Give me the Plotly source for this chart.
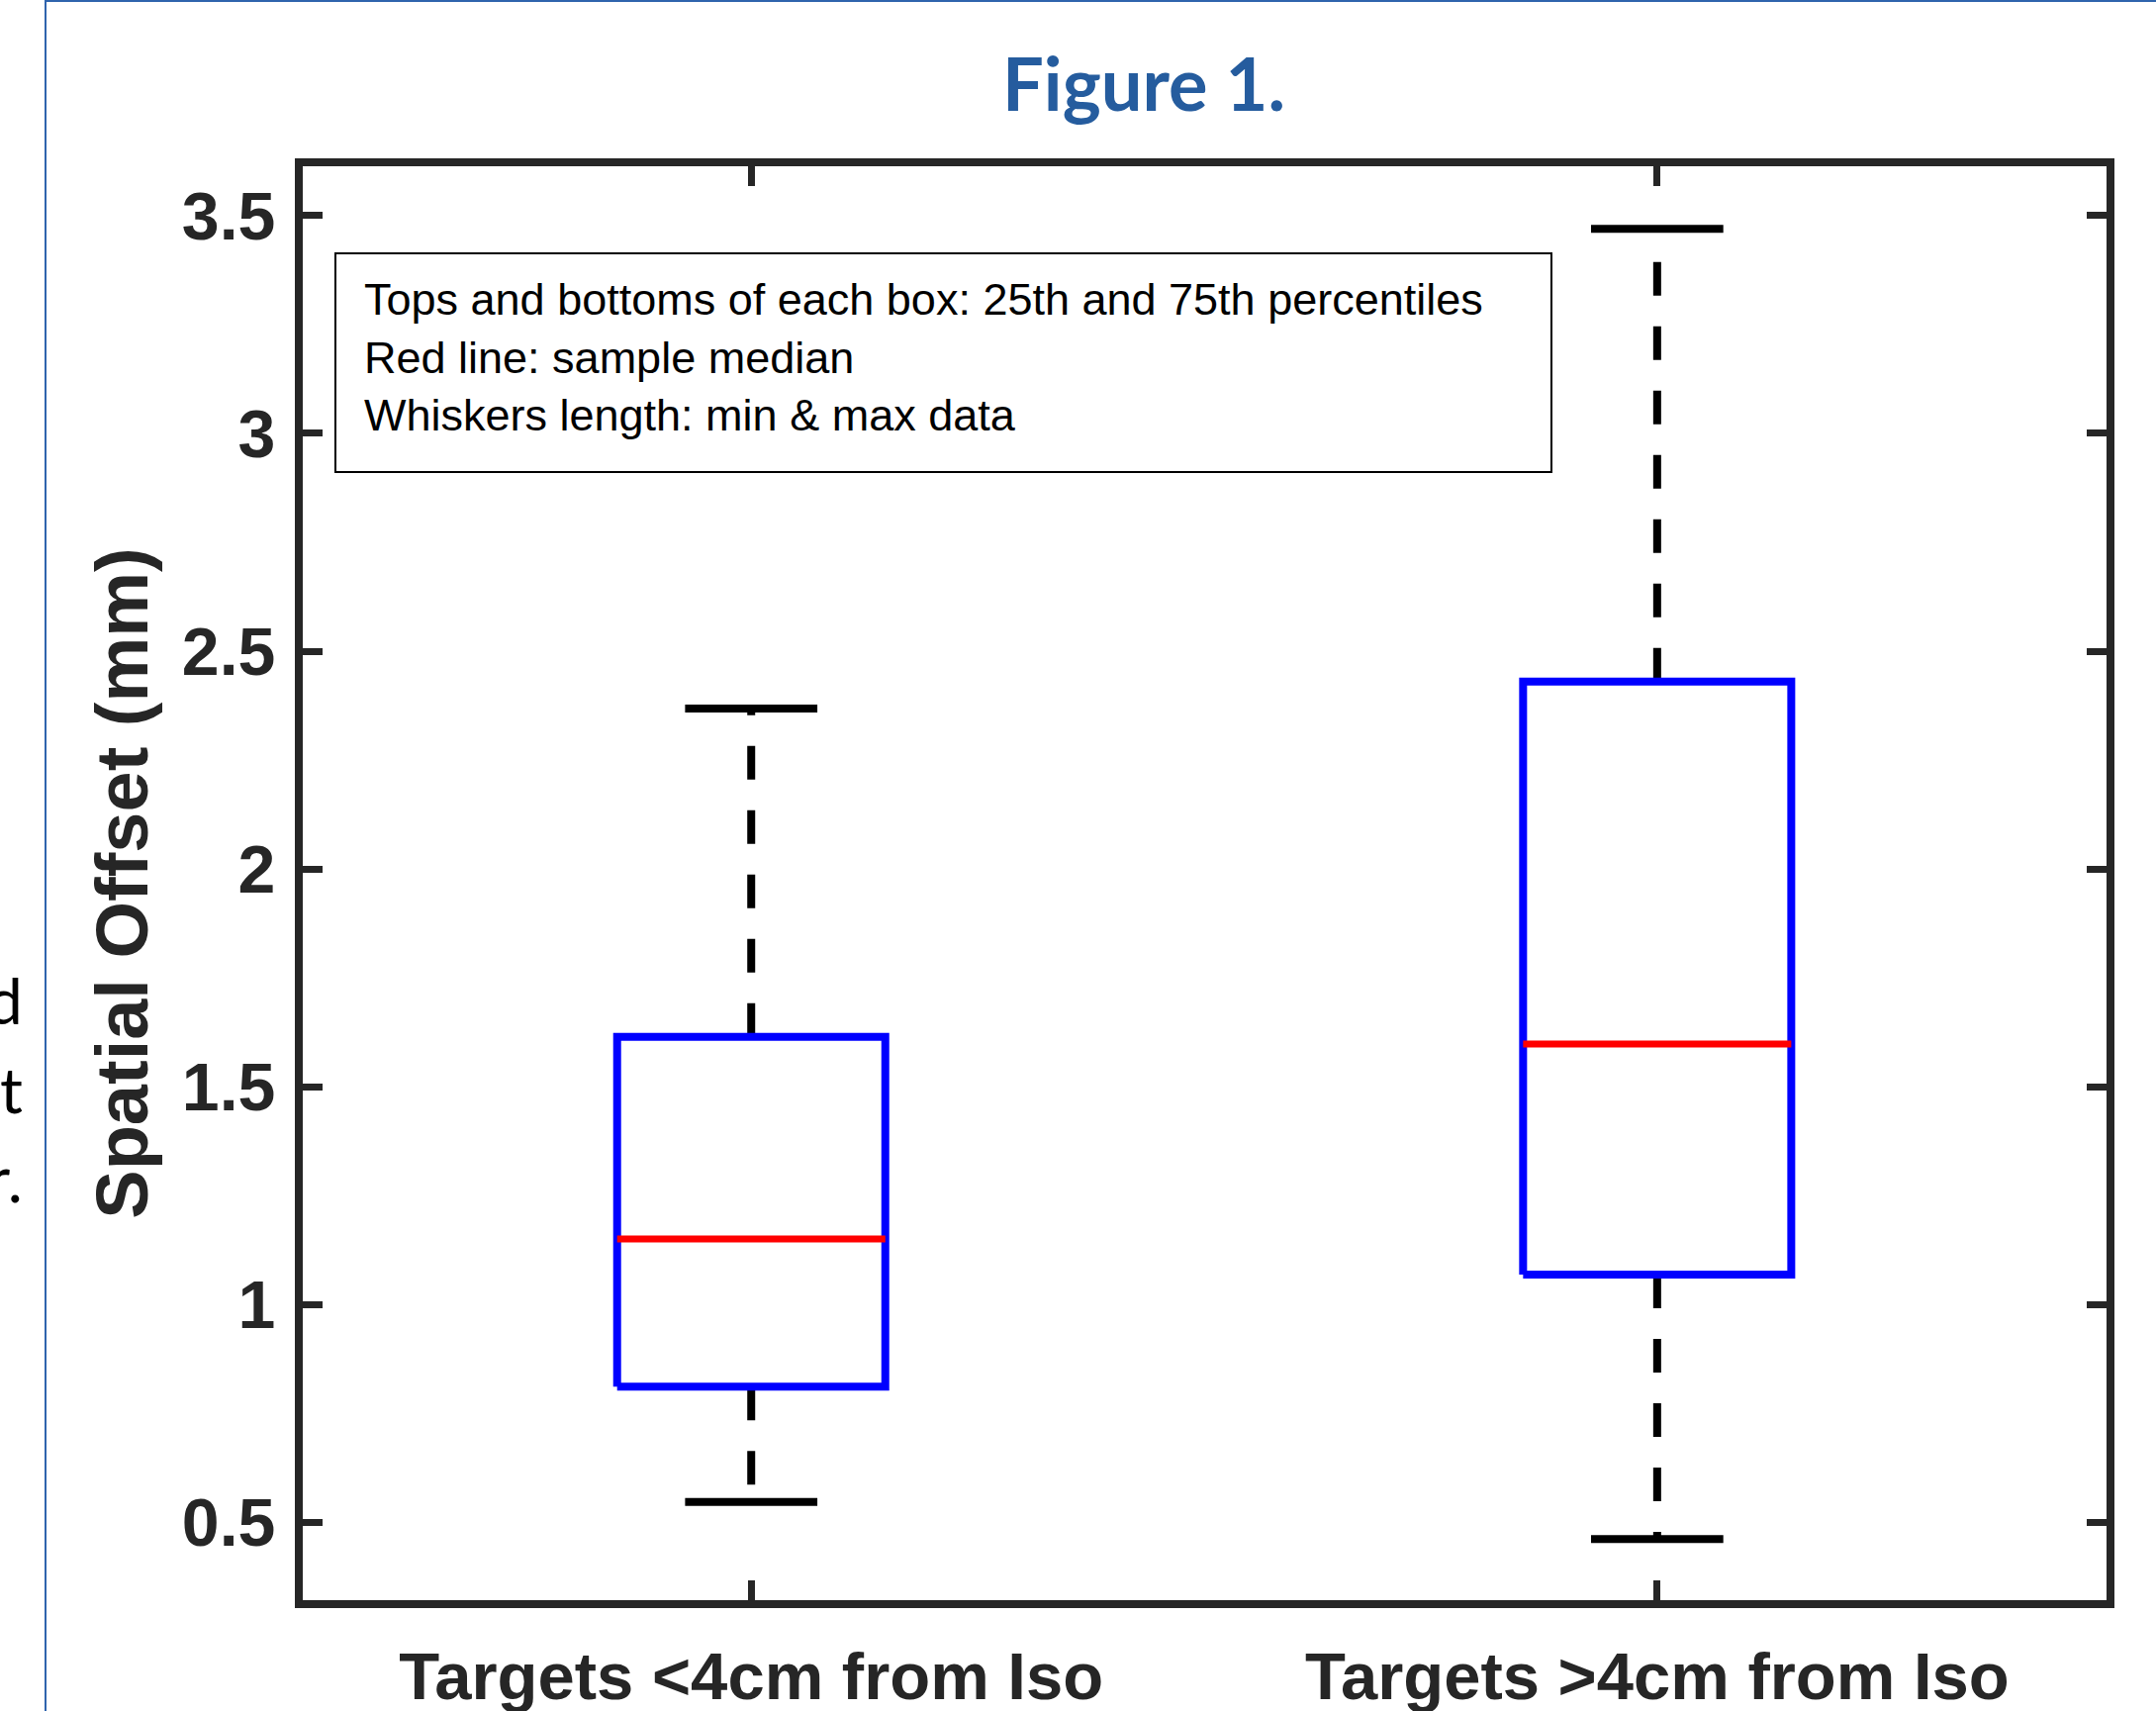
import plotly.graph_objects as go

# ---- data ----
categories = ["Targets <4cm from Iso", "Targets >4cm from Iso"]
q1 = [0.811, 1.068]
median = [1.150, 1.598]
q3 = [1.614, 2.430]
minimum = [0.546, 0.461]
maximum = [2.368, 3.470]
y_ticks = [0.5, 1, 1.5, 2, 2.5, 3, 3.5]
y_tick_labels = ["0.5", "1", "1.5", "2", "2.5", "3", "3.5"]
legend_lines = [
    "Tops and bottoms of each box: 25th and 75th percentiles",
    "Red line: sample median",
    "Whiskers length: min & max data",
]

# ---- layout geometry (pixels) ----
W, H = 2179, 1729
L, R, T, B = 306, 2129, 168, 1617
BOX_HW = 0.148
CAP_HW = 0.073
AXC = "#262626"


def px(xp):
    return (xp - L) / (R - L)


def py(yp):
    return (B - yp) / (B - T)


pos = [i + 1 for i in range(len(categories))]

bx, by, mx, my, wx, wy, cx, cy = [], [], [], [], [], [], [], []
for p, a, m, b, lo, hi in zip(pos, q1, median, q3, minimum, maximum):
    bx += [p - BOX_HW, p + BOX_HW, p + BOX_HW, p - BOX_HW, p - BOX_HW, None]
    by += [a, a, b, b, a, None]
    mx += [p - BOX_HW, p + BOX_HW, None]
    my += [m, m, None]
    wx += [p, p, None, p, p, None]
    wy += [b, hi, None, a, lo, None]
    cx += [p - CAP_HW, p + CAP_HW, None, p - CAP_HW, p + CAP_HW, None]
    cy += [hi, hi, None, lo, lo, None]

fig = go.Figure()
fig.add_trace(go.Scatter(x=wx, y=wy, mode="lines",
                         line=dict(color="black", width=8, dash="34px,31px"),
                         hoverinfo="skip", showlegend=False))
fig.add_trace(go.Scatter(x=cx, y=cy, mode="lines",
                         line=dict(color="black", width=8),
                         hoverinfo="skip", showlegend=False))
fig.add_trace(go.Scatter(x=bx, y=by, mode="lines",
                         line=dict(color="#0000FF", width=8),
                         hoverinfo="skip", showlegend=False))
fig.add_trace(go.Scatter(x=mx, y=my, mode="lines",
                         line=dict(color="#FF0000", width=7),
                         hoverinfo="skip", showlegend=False))

fig.update_layout(
    width=W, height=H,
    margin=dict(l=L, r=W - R, t=T, b=H - B, autoexpand=False),
    paper_bgcolor="white", plot_bgcolor="white",
    title=dict(text="Figure 1.", xref="container", yref="container",
               x=1156 / W, y=1 - 86 / H, xanchor="center", yanchor="middle",
               font=dict(family="Lato", size=74, color="#255C9E", weight="bold")),
    xaxis=dict(range=[0.505, 2.496], tickvals=pos, ticktext=categories,
               showgrid=False, zeroline=False, showline=True, linecolor=AXC,
               linewidth=8, mirror="ticks", ticks="inside", ticklen=20,
               tickwidth=7, tickcolor=AXC, ticklabelstandoff=12,
               tickfont=dict(family="Liberation Sans", size=67, color=AXC,
                             weight="bold")),
    yaxis=dict(range=[0.3205, 3.6136], tickvals=y_ticks, ticktext=y_tick_labels,
               showgrid=False, zeroline=False, showline=True, linecolor=AXC,
               linewidth=8, mirror="ticks", ticks="inside", ticklen=20,
               tickwidth=7, tickcolor=AXC, ticklabelstandoff=6,
               tickfont=dict(family="Liberation Sans", size=68, color=AXC,
                             weight="bold"),
               title=dict(text="Spatial Offset (mm)", standoff=13,
                          font=dict(family="Liberation Sans", size=74,
                                    color=AXC, weight="bold"))),
)

# legend-like text box
fig.add_shape(type="rect", xref="paper", yref="paper",
              x0=px(339), x1=px(1568), y0=py(477), y1=py(256),
              line=dict(color="black", width=2), fillcolor="white", layer="above")
fig.add_annotation(xref="paper", yref="paper", x=px(366), y=py(275),
                   xanchor="left", yanchor="top", align="left", showarrow=False,
                   text="<br>".join(legend_lines),
                   font=dict(family="Liberation Sans", size=45, color="black"))

# page frame lines (blue)
fig.add_shape(type="line", xref="paper", yref="paper",
              x0=px(46), x1=px(46), y0=py(H + 5), y1=py(0),
              line=dict(color="#2F64AD", width=2))
fig.add_shape(type="line", xref="paper", yref="paper",
              x0=px(46), x1=px(W + 5), y0=py(1), y1=py(1),
              line=dict(color="#2F64AD", width=2))

# clipped text fragments from neighbouring column
for t, yb in zip(["d", "t", "r."], [1037, 1127, 1217]):
    fig.add_annotation(xref="paper", yref="paper", x=px(25), y=py(yb + 14),
                       xanchor="right", yanchor="bottom", showarrow=False,
                       text=t, font=dict(family="Lato", size=64, color="black"))

fig.write_html("out.html", config={"displayModeBar": False},
               post_script="document.body.style.margin='0';")
